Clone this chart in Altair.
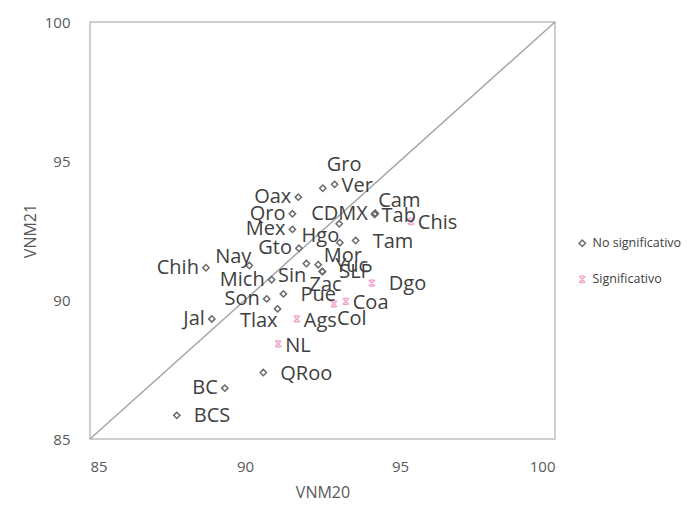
import altair as alt
import pandas as pd

states = ["Gro", "Ver", "Oax", "Qro", "Mex", "CDMX", "Cam", "Tab", "Hgo", "Mor",
          "Tam", "Gto", "Chih", "Nay", "Mich", "Sin", "Yuc", "SLP", "Zac", "Pue",
          "Son", "Tlax", "Jal", "QRoo", "BC", "BCS",
          "Chis", "Dgo", "Coa", "Col", "Ags", "NL"]
vnm20 = [92.51, 92.89, 91.72, 91.53, 91.53, 94.19, 94.20, 94.18, 93.04, 93.06,
         93.57, 91.74, 88.74, 90.14, 90.86, 91.98, 92.36, 92.49, 92.50, 91.24,
         90.70, 91.05, 88.93, 90.59, 89.35, 87.80,
         95.35, 94.09, 93.25, 92.87, 91.67, 91.07]
vnm21 = [94.02, 94.16, 93.70, 93.10, 92.54, 93.10, 93.12, 93.08, 92.74, 92.06,
         92.14, 91.86, 91.16, 91.24, 90.73, 91.31, 91.27, 91.03, 91.02, 90.22,
         90.04, 89.68, 89.32, 87.39, 86.83, 85.85,
         92.83, 90.61, 89.95, 89.86, 89.32, 88.42]
significance = ["No significativo"] * 26 + ["Significativo"] * 6
label_side = ["ttr", "r", "l", "l", "l", "l", "tr", "r", "bl", "b",
              "rr", "l", "l", "tl", "l", "bl", "rr", "rr", "b", "rr",
              "l", "bl", "l", "rr", "l", "rr",
              "r", "rr", "r", "br", "r", "r"]

diag_x = [85, 100]
diag_y = [85, 100]
ticks = [85, 90, 95, 100]

df = pd.DataFrame({"state": states, "vnm20": vnm20, "vnm21": vnm21,
                   "sig": significance, "side": label_side})
diag = pd.DataFrame({"x": diag_x, "y": diag_y})

FONT = "Open Sans"
xscale = alt.Scale(domain=[85, 100], nice=False, zero=False)
yscale = alt.Scale(domain=[85, 100], nice=False, zero=False)
xaxis = alt.Axis(values=ticks, title="VNM20", labelPadding=20, titlePadding=10)
yaxis = alt.Axis(values=ticks, title="VNM21", labelPadding=20, titlePadding=6)

line = alt.Chart(diag).mark_line(color="#a6a6a6", strokeWidth=1.5).encode(
    x=alt.X("x:Q", scale=xscale, axis=xaxis),
    y=alt.Y("y:Q", scale=yscale, axis=yaxis),
)

xmark = "M-1,-1L1,1M-1,1L1,-1M-0.55,-1L0.55,-1M-0.55,1L0.55,1"
points = alt.Chart(df).mark_point(filled=False, strokeWidth=1.5, size=40, opacity=1).encode(
    x=alt.X("vnm20:Q", scale=xscale, axis=xaxis),
    y=alt.Y("vnm21:Q", scale=yscale, axis=yaxis),
    shape=alt.Shape("sig:N", scale=alt.Scale(domain=["No significativo", "Significativo"],
                                             range=["diamond", xmark]),
                    legend=alt.Legend(title=None)),
    color=alt.Color("sig:N", scale=alt.Scale(domain=["No significativo", "Significativo"],
                                             range=["#6b6b6b", "#f2a6cc"]),
                    legend=alt.Legend(title=None)),
)

offsets = {
    "r": dict(align="left", dx=7, dy=2),
    "rr": dict(align="left", dx=17, dy=1),
    "l": dict(align="right", dx=-7, dy=0),
    "b": dict(align="center", dx=3, dy=13),
    "tr": dict(align="left", dx=3, dy=-12),
    "ttr": dict(align="left", dx=4, dy=-23),
    "tl": dict(align="right", dx=2, dy=-9),
    "br": dict(align="left", dx=3, dy=15),
    "bl": dict(align="right", dx=0, dy=12),
}

texts = []
for side, o in offsets.items():
    texts.append(
        alt.Chart(df).transform_filter(alt.datum.side == side).mark_text(
            baseline="middle", font=FONT, fontSize=20, color="#404040", **o
        ).encode(
            x=alt.X("vnm20:Q", scale=xscale, axis=xaxis),
            y=alt.Y("vnm21:Q", scale=yscale, axis=yaxis),
            text="state:N",
        )
    )

chart = alt.layer(line, points, *texts).properties(
    width=465, height=417,
    padding={"left": 82, "top": 14, "right": 131, "bottom": 68},
    autosize=alt.AutoSizeParams(type="none"),
).configure_view(
    stroke="#bfbfbf", strokeWidth=1.5
).configure_axis(
    grid=False, domain=False, ticks=False, tickSize=0,
    labelFont=FONT, labelFontSize=15, labelColor="#595959",
    titleFont=FONT, titleFontSize=16, titleColor="#595959", titleFontWeight="normal",
).configure_legend(
    orient="none", legendX=486, legendY=215,
    labelFont=FONT, labelFontSize=12.5, labelColor="#404040",
    symbolSize=40, symbolStrokeWidth=1.5, rowPadding=23, symbolOffset=0,
)

chart.save("out.html", embed_options={"renderer": "svg", "actions": False})
